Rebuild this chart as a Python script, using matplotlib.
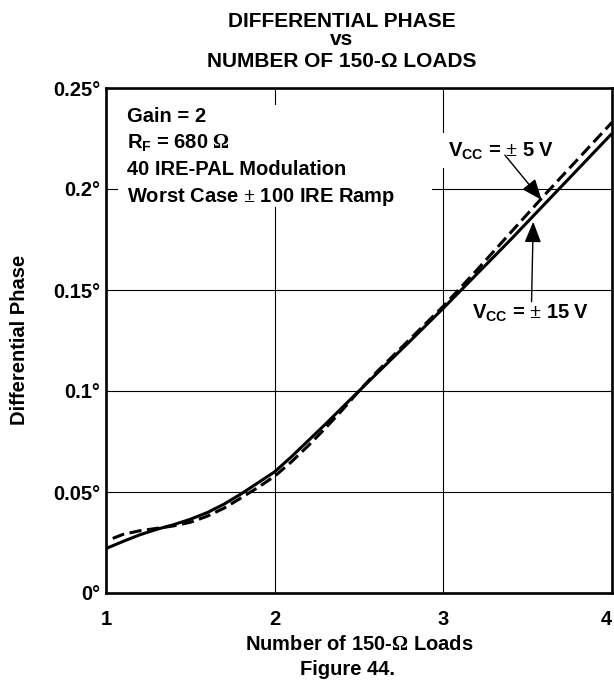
import matplotlib
matplotlib.use("Agg")
import matplotlib.pyplot as plt
from matplotlib.patches import Rectangle

plt.rcParams["font.family"] = ["Liberation Sans", "DejaVu Sans"]
plt.rcParams["font.weight"] = "bold"
plt.rcParams["mathtext.fontset"] = "custom"
plt.rcParams["mathtext.rm"] = "Liberation Serif"
plt.rcParams["mathtext.sf"] = "Liberation Sans:bold"
plt.rcParams["mathtext.bf"] = "Liberation Sans:bold"
plt.rcParams["mathtext.it"] = "Liberation Serif:italic"

# ---------------------------------------------------------------------------
# Data
# ---------------------------------------------------------------------------
loads_15v = [1.0, 1.1, 1.2, 1.3, 1.4, 1.5, 1.6, 1.7, 1.8, 1.9, 2.0, 2.1, 2.2,
             2.3, 2.4, 2.5, 2.6, 2.8, 3.0, 3.2, 3.4, 3.6, 3.8, 4.0]
phase_15v = [0.0220, 0.0255, 0.0288, 0.0315, 0.0338, 0.0365, 0.0398, 0.0440,
             0.0490, 0.0545, 0.0600, 0.0675, 0.0755, 0.0835, 0.0918, 0.1000,
             0.1082, 0.1245, 0.1410, 0.1580, 0.1750, 0.1925, 0.2100, 0.2275]

loads_5v = [1.04, 1.1, 1.2, 1.3, 1.4, 1.5, 1.6, 1.7, 1.8, 1.9, 2.0, 2.1, 2.2,
            2.3, 2.4, 2.5, 2.6, 2.8, 3.0, 3.2, 3.4, 3.6, 3.8, 4.0]
phase_5v = [0.0270, 0.0290, 0.0308, 0.0320, 0.0332, 0.0350, 0.0380, 0.0420,
            0.0470, 0.0522, 0.0578, 0.0650, 0.0730, 0.0815, 0.0905, 0.1000,
            0.1090, 0.1255, 0.1420, 0.1600, 0.1785, 0.1970, 0.2150, 0.2330]

x_ticks = [1, 2, 3, 4]
y_ticks = [0, 0.05, 0.1, 0.15, 0.2, 0.25]
y_tick_labels = ["0°", "0.05°", "0.1°", "0.15°", "0.2°", "0.25°"]

conditions = ["Gain = 2",
              r"R$_\mathsf{F}$ = 680 $\mathrm{\Omega}$",
              "40 IRE-PAL Modulation",
              r"Worst Case $\mathrm{\pm}$ 100 IRE Ramp"]

FS = 14.5
FS_TITLE = 15

# ---------------------------------------------------------------------------
# Figure
# ---------------------------------------------------------------------------
fig = plt.figure(figsize=(6.14, 6.81), dpi=100)
ax = fig.add_axes([106 / 614, 1 - 593 / 681, 506 / 614, 505 / 681])

ax.plot(loads_15v, phase_15v, color="black", lw=2.2, zorder=3,
        solid_capstyle="butt")
ax.plot(loads_5v, phase_5v, color="black", lw=2.2, zorder=3,
        linestyle=(0, (4, 1.8)), dash_capstyle="butt")

ax.set_xlim(1, 4)
ax.set_ylim(0, 0.25)
ax.set_xticks(x_ticks)
ax.set_yticks(y_ticks)
ax.set_yticklabels(y_tick_labels)
ax.tick_params(length=0, labelsize=FS)
ax.tick_params(axis="x", pad=12)
ax.tick_params(axis="y", pad=4)
for lbl in ax.get_xticklabels() + ax.get_yticklabels():
    lbl.set_fontweight("bold")
# last x label sits flush with the right edge, as in the original
ax.get_xticklabels()[-1].set_horizontalalignment("right")

ax.grid(True, color="black", lw=0.8)
ax.set_axisbelow(True)
for sp in ax.spines.values():
    sp.set_linewidth(1.9)
    sp.set_zorder(5)

# white panel behind the conditions block (breaks the grid like the original)
ax.add_patch(Rectangle((1.071, 0.191), 1.861, 0.0506, facecolor="white",
                       edgecolor="none", zorder=1))
baselines = [0.2332, 0.2203, 0.2069, 0.1936]
for txt, yb in zip(conditions, baselines):
    ax.text(1.124, yb, txt, fontsize=FS, fontweight="bold", va="baseline",
            ha="left", zorder=4)

# V_CC labels with leader arrows
ax.text(3.027, 0.2163, r"V$_\mathsf{CC}$ = $\mathrm{\pm}$ 5 V", fontsize=FS,
        fontweight="bold", va="baseline", ha="left", zorder=4,
        bbox=dict(facecolor="white", edgecolor="none", pad=5))
ax.text(3.168, 0.1361, r"V$_\mathsf{CC}$ = $\mathrm{\pm}$ 15 V", fontsize=FS,
        fontweight="bold", va="baseline", ha="left", zorder=4)

arrow_kw = dict(arrowstyle="-|>,head_length=0.8,head_width=0.32",
                color="black", lw=1.0, mutation_scale=16,
                shrinkA=0, shrinkB=0)
ax.annotate("", xy=(3.583, 0.1946), xytext=(3.365, 0.2168),
            arrowprops=arrow_kw, zorder=4)
ax.annotate("", xy=(3.533, 0.1838), xytext=(3.523, 0.1442),
            arrowprops=arrow_kw, zorder=4)

# titles and labels
fig.text(342 / 614, 1 - 27 / 681, "DIFFERENTIAL PHASE", fontsize=FS_TITLE,
         fontweight="bold", ha="center", va="baseline")
fig.text(342 / 614, 1 - 45 / 681, "vs", fontsize=FS_TITLE, fontweight="bold",
         ha="center", va="baseline")
fig.text(342 / 614, 1 - 67 / 681, "NUMBER OF 150-Ω LOADS", fontsize=FS_TITLE,
         fontweight="bold", ha="center", va="baseline")

fig.text(359 / 614, 1 - 650 / 681, r"Number of 150-$\mathrm{\Omega}$ Loads",
         fontsize=FS, fontweight="bold", ha="center", va="baseline")
fig.text(347 / 614, 1 - 675 / 681, "Figure 44.", fontsize=FS,
         fontweight="bold", ha="center", va="baseline")
fig.text(20 / 614, 1 - 340 / 681, "Differential Phase", fontsize=FS,
         fontweight="bold", rotation=90, ha="center", va="center")

fig.savefig("out.png", dpi=100)
